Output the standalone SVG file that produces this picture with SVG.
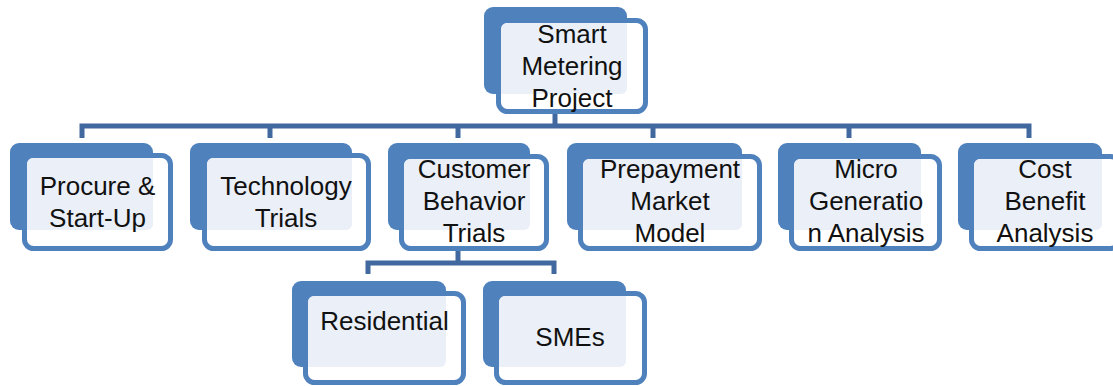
<svg xmlns="http://www.w3.org/2000/svg" width="1113" height="386" viewBox="0 0 1113 386">
  <style>
    .back { fill: #4f81bd; }
    .front { fill: #ffffff; stroke: #4f81bd; stroke-width: 5; }
    .tint { fill: #eaeff8; }
    .conn { fill: none; stroke: #41699f; stroke-width: 5; stroke-linejoin: miter; stroke-linecap: butt; }
    .label { font-family: "Liberation Sans", Arial, sans-serif; font-size: 26px; fill: #111111; text-anchor: middle; }
  </style>
  <defs>
    <!-- inner areas of the front frames; the tint is the back card seen through them -->
    <clipPath id="clip-top"><rect x="501" y="23" width="142" height="86" rx="6"/></clipPath>
    <clipPath id="clip-procure"><rect x="27" y="158" width="141" height="88" rx="6"/></clipPath>
    <clipPath id="clip-technology"><rect x="207" y="158" width="159" height="88" rx="6"/></clipPath>
    <clipPath id="clip-customer"><rect x="404" y="159" width="140" height="87" rx="6"/></clipPath>
    <clipPath id="clip-prepayment"><rect x="583" y="159" width="174" height="87" rx="6"/></clipPath>
    <clipPath id="clip-micro"><rect x="794" y="159" width="143" height="87" rx="6"/></clipPath>
    <clipPath id="clip-cost"><rect x="974" y="159" width="143" height="87" rx="6"/></clipPath>
    <clipPath id="clip-residential"><rect x="308" y="296" width="153" height="84" rx="6"/></clipPath>
    <clipPath id="clip-smes"><rect x="499" y="296" width="143" height="84" rx="6"/></clipPath>
  </defs>

  <!-- connectors -->
  <g id="connectors">
    <path class="conn" d="M555 114 V126"/>
    <path class="conn" d="M82 138 V126 H1029 V138"/>
    <path class="conn" d="M270 126 V138"/>
    <path class="conn" d="M458 126 V138"/>
    <path class="conn" d="M653 126 V138"/>
    <path class="conn" d="M849 126 V138"/>
    <path class="conn" d="M458 251 V263"/>
    <path class="conn" d="M368 274 V263 H554 V274"/>
  </g>

  <!-- root -->
  <g id="node-smart-metering">
    <rect class="back" x="484" y="7" width="143" height="87" rx="9"/>
    <rect class="front" x="498.5" y="20.5" width="147" height="91" rx="9"/>
    <rect class="tint" x="484" y="7" width="143" height="87" rx="6" clip-path="url(#clip-top)"/>
    <text class="label" x="572" y="43">Smart</text>
    <text class="label" x="572" y="75">Metering</text>
    <text class="label" x="572" y="107">Project</text>
  </g>

  <g id="node-procure">
    <rect class="back" x="10" y="143" width="143" height="87" rx="9"/>
    <rect class="front" x="24.5" y="155.5" width="146" height="93" rx="9"/>
    <rect class="tint" x="10" y="143" width="143" height="87" rx="6" clip-path="url(#clip-procure)"/>
    <text class="label" x="97.5" y="195">Procure &amp;</text>
    <text class="label" x="97.5" y="227">Start-Up</text>
  </g>

  <g id="node-technology">
    <rect class="back" x="190" y="143" width="162" height="87" rx="9"/>
    <rect class="front" x="204.5" y="155.5" width="164" height="93" rx="9"/>
    <rect class="tint" x="190" y="143" width="162" height="87" rx="6" clip-path="url(#clip-technology)"/>
    <text class="label" x="286" y="195">Technology</text>
    <text class="label" x="286" y="227">Trials</text>
  </g>

  <g id="node-customer">
    <rect class="back" x="388" y="143" width="142" height="87" rx="9"/>
    <rect class="front" x="401.5" y="156.5" width="145" height="92" rx="9"/>
    <rect class="tint" x="388" y="143" width="142" height="87" rx="6" clip-path="url(#clip-customer)"/>
    <text class="label" x="474" y="178">Customer</text>
    <text class="label" x="474" y="210">Behavior</text>
    <text class="label" x="474" y="242">Trials</text>
  </g>

  <g id="node-prepayment">
    <rect class="back" x="567" y="143" width="175" height="87" rx="9"/>
    <rect class="front" x="580.5" y="156.5" width="179" height="92" rx="9"/>
    <rect class="tint" x="567" y="143" width="175" height="87" rx="6" clip-path="url(#clip-prepayment)"/>
    <text class="label" x="670" y="178">Prepayment</text>
    <text class="label" x="670" y="210">Market</text>
    <text class="label" x="670" y="242">Model</text>
  </g>

  <g id="node-micro">
    <rect class="back" x="778" y="143" width="143" height="87" rx="9"/>
    <rect class="front" x="791.5" y="156.5" width="148" height="92" rx="9"/>
    <rect class="tint" x="778" y="143" width="143" height="87" rx="6" clip-path="url(#clip-micro)"/>
    <text class="label" x="866" y="178">Micro</text>
    <text class="label" x="866" y="210">Generatio</text>
    <text class="label" x="866" y="242">n Analysis</text>
  </g>

  <g id="node-cost">
    <rect class="back" x="958" y="143" width="144" height="87" rx="9"/>
    <rect class="front" x="971.5" y="156.5" width="148" height="92" rx="9"/>
    <rect class="tint" x="958" y="143" width="144" height="87" rx="6" clip-path="url(#clip-cost)"/>
    <text class="label" x="1045" y="178">Cost</text>
    <text class="label" x="1045" y="210">Benefit</text>
    <text class="label" x="1045" y="242">Analysis</text>
  </g>

  <g id="node-residential">
    <rect class="back" x="292" y="281" width="154" height="86" rx="9"/>
    <rect class="front" x="305.5" y="293.5" width="158" height="89" rx="9"/>
    <rect class="tint" x="292" y="281" width="154" height="86" rx="6" clip-path="url(#clip-residential)"/>
    <text class="label" x="384.5" y="330">Residential</text>
  </g>

  <g id="node-smes">
    <rect class="back" x="483" y="281" width="143" height="86" rx="9"/>
    <rect class="front" x="496.5" y="293.5" width="148" height="89" rx="9"/>
    <rect class="tint" x="483" y="281" width="143" height="86" rx="6" clip-path="url(#clip-smes)"/>
    <text class="label" x="570" y="346">SMEs</text>
  </g>
</svg>
